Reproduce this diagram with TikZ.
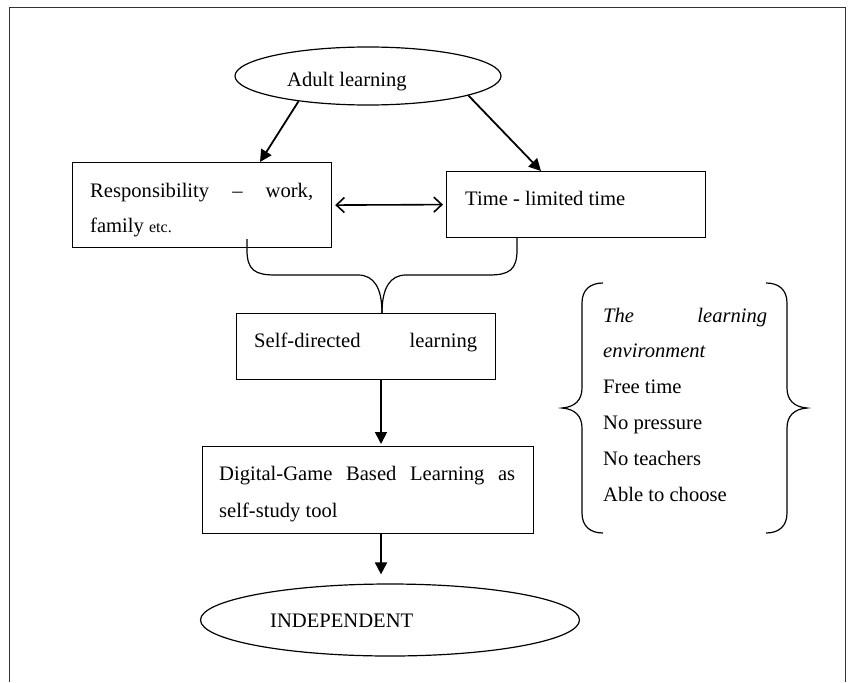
\documentclass[tikz,border=0pt]{standalone}
\usepackage{fontspec}
\setmainfont{Liberation Serif}
\usetikzlibrary{arrows.meta,shapes.geometric}
\begin{document}
\begin{tikzpicture}[x=1pt,y=-1pt,
  box/.style={draw, line width=1.2pt, inner sep=0pt, anchor=north west},
  oval/.style={draw, ellipse, line width=1.2pt, inner sep=0pt},
  txt/.style={anchor=base west, inner sep=0pt, font=\fontsize{20.6}{35.8}\selectfont},
  arr/.style={line width=1.8pt, -{Triangle[length=12pt,width=12pt]}},
  dbl/.style={line width=1.6pt, {Straight Barb[length=8pt,width=15pt]}-{Straight Barb[length=8pt,width=15pt]}},
  curly/.style={line width=1.2pt},
  frame/.style={line width=1pt, draw=black!80}
]
\useasboundingbox (0,0) rectangle (850,682);
\draw[frame] (9,682) -- (9,8) -- (845,8) -- (845,682);

% nodes
\node[oval, minimum width=266pt, minimum height=58pt] (adult) at (368,76) {};
\node[txt] (adultt) at (287,87) {Adult learning};

\node[box, minimum width=259pt, minimum height=85pt] (resp) at (72,162) {};
\node[txt] (respt) at (90,197) {\parbox[t]{223pt}{\makebox[223pt][s]{Responsibility – work,}\\family {\fontsize{16}{20}\selectfont etc.}}};

\node[box, minimum width=259pt, minimum height=66pt] (time) at (446,171) {};
\node[txt] (timet) at (465,205) {Time - limited time};

\node[box, minimum width=259pt, minimum height=66pt] (self) at (236,313) {};
\node[txt] (selft) at (254,347) {\makebox[223pt][s]{Self-directed learning}};

\node[box, minimum width=331pt, minimum height=87pt] (digital) at (202,446) {};
\node[txt, font=\fontsize{20.6}{37}\selectfont] (digitalt) at (219,480) {\parbox[t]{296pt}{\makebox[296pt][s]{Digital-Game Based Learning as}\\self-study tool}};

\node[oval, minimum width=379pt, minimum height=72pt] (indep) at (390,620) {};
\node[txt] (indept) at (270,627) {INDEPENDENT};

\node[txt] (envt) at (603,322) {\parbox[t]{164pt}{\makebox[164pt][s]{\itshape The learning}\\{\itshape environment}\\Free time\\No pressure\\No teachers\\Able to choose}};

% connectors
\draw[arr] (adult.200) -- ([xshift=188pt]resp.north west);
\draw[arr] (adult.-11.5) -- ([xshift=95pt]time.north west);
\draw[dbl, shorten <=3pt, shorten >=3pt] (resp.east) -- (time.west);

\coordinate (bl) at ([xshift=175pt,yshift=9pt]resp.south west);
\coordinate (br) at ([xshift=71pt]time.south west);
\coordinate (tip) at ([xshift=146pt]self.north west);
\draw[curly] (bl) -- (247,250) .. controls (247,270) and (255,275) .. (275,275) -- (358,275) .. controls (374,275) and (382,288) .. (tip);
\draw[curly] (br) -- (517,250) .. controls (517,270) and (509,275) .. (489,275) -- (406,275) .. controls (390,275) and (382,288) .. (tip);

\coordinate (s1) at ([xshift=145pt]self.south west);
\draw[arr, shorten >=2pt] (s1) -- (s1 |- digital.north);
\coordinate (d1) at ([xshift=179pt]digital.south west);
\draw[arr, shorten >=9pt] (d1) -- (d1 |- indep.north);

% side braces
\draw[curly] (603,283) .. controls (590,283) and (582,290) .. (582,303) -- (582,388) .. controls (582,400) and (575,407) .. (562,408) .. controls (575,409) and (582,416) .. (582,428) -- (582,513) .. controls (582,526) and (590,533) .. (603,533);
\draw[curly] (766,283) .. controls (779,283) and (787,290) .. (787,303) -- (787,388) .. controls (787,400) and (794,407) .. (807,408) .. controls (794,409) and (787,416) .. (787,428) -- (787,513) .. controls (787,526) and (779,533) .. (766,533);
\end{tikzpicture}
\end{document}
